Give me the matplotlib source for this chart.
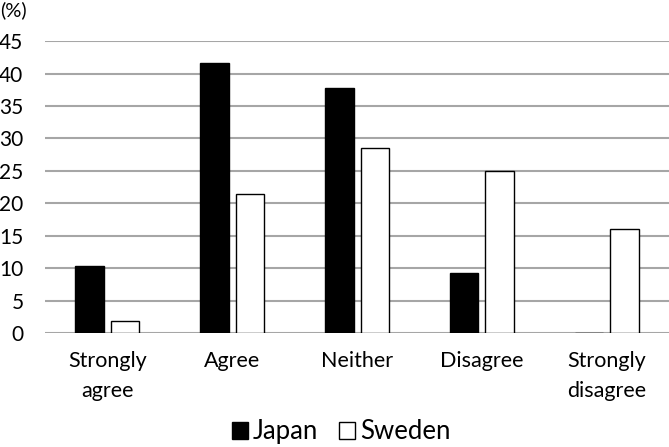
import matplotlib
matplotlib.use("Agg")
import matplotlib.pyplot as plt
import numpy as np

categories = ["Strongly\nagree", "Agree", "Neither", "Disagree", "Strongly\ndisagree"]
japan = [10.4, 41.6, 37.7, 9.2, 0.0]
sweden = [1.8, 21.4, 28.6, 25.0, 16.1]
yticks = [0, 5, 10, 15, 20, 25, 30, 35, 40, 45]

plt.rcParams['font.family'] = ['Lato', 'DejaVu Sans']

fig = plt.figure(figsize=(6.69, 4.47), dpi=100)
ax = fig.add_axes([0.0673, 0.255, 0.9327, 0.653])

x = np.arange(len(categories))
w = 0.228
off = 0.142
ax.bar(x - off, japan, w, color='black', edgecolor='black', linewidth=1, label='Japan', zorder=3)
ax.bar(x + off, sweden, w, color='white', edgecolor='black', linewidth=1, label='Sweden', zorder=3)

ax.set_xlim(-0.5, len(categories) - 0.5)
ax.set_ylim(0, 45)
ax.set_yticks(yticks)
ax.yaxis.grid(True, color='#a6a6a6', linewidth=1.5, zorder=0)
ax.set_axisbelow(True)
for s in ax.spines.values():
    s.set_visible(False)
ax.tick_params(axis='y', length=0, pad=15.5, labelsize=15)
ax.tick_params(axis='x', length=0, pad=13, labelsize=15.5)
ax.set_xticks(x)
ax.set_xticklabels(categories, linespacing=1.6)

fig.text(0.0, 0.977, "(%)", fontsize=14.5, ha='left', va='center')

leg = fig.legend(loc='center', bbox_to_anchor=(0.51, 0.034), ncol=2, frameon=False,
                 fontsize=18.5, handlelength=0.62, handleheight=0.62, handletextpad=0.2,
                 columnspacing=0.8)

fig.savefig("out.png", dpi=100)
